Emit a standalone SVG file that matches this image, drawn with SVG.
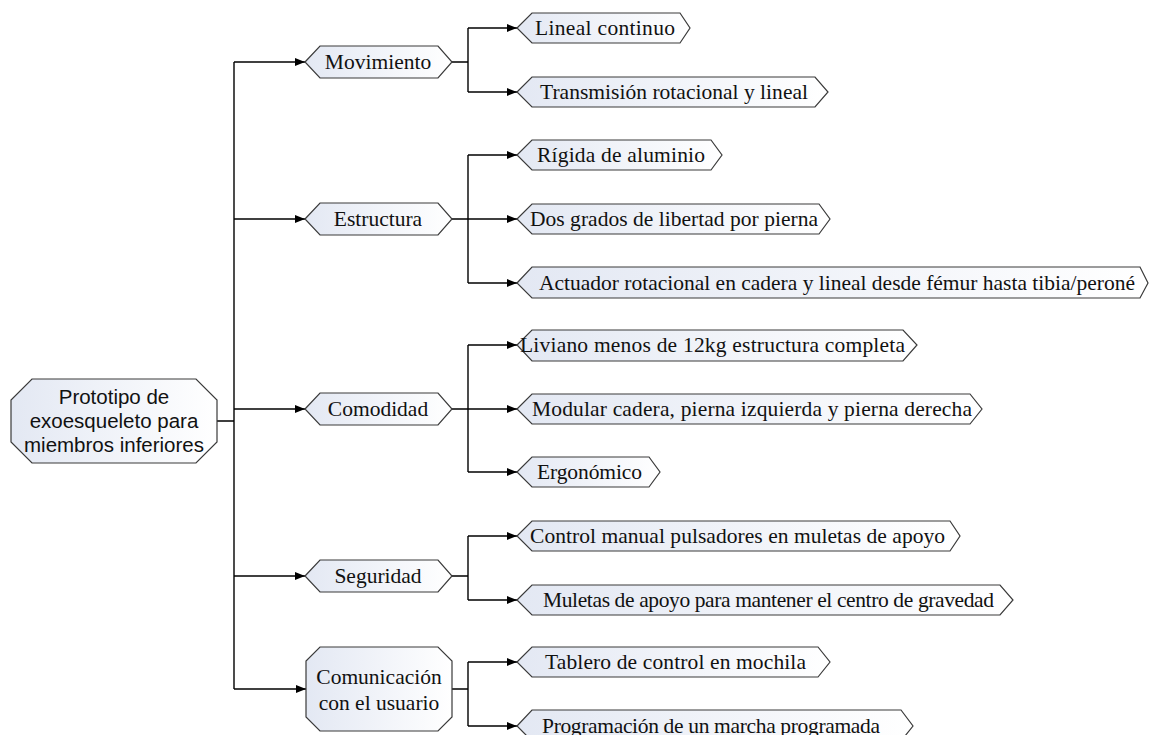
<svg xmlns="http://www.w3.org/2000/svg" width="1149" height="735" viewBox="0 0 1149 735">
  <defs>
    <linearGradient id="fillGrad" x1="0" y1="0" x2="1" y2="0">
      <stop offset="0" stop-color="#e3e8f3"/>
      <stop offset="1" stop-color="#ffffff"/>
    </linearGradient>
    <marker id="arrow" viewBox="0 0 10 8" refX="10" refY="4" markerWidth="10" markerHeight="8" markerUnits="userSpaceOnUse" orient="auto">
      <path d="M0,0 L10,4 L0,8 Z" fill="#000"/>
    </marker>
  </defs>
  <style>
    .shape { fill: url(#fillGrad); stroke: #3a3a3a; stroke-width: 1.2; }
    .wire { fill: none; stroke: #000; stroke-width: 1.4; }
    .arr { marker-end: url(#arrow); }
    .serif { font-family: "Liberation Serif", "Times New Roman", serif; font-size: 21.5px; fill: #111; }
    .sans { font-family: "Liberation Sans", Arial, sans-serif; font-size: 20.5px; fill: #111; }
    .mid { text-anchor: middle; }
  </style>

  <rect width="1149" height="735" fill="#ffffff"/>

  <!-- connectors -->
  <g id="connectors">
    <path class="wire" d="M217,421 H234 M234,62 V689"/>
    <path class="wire arr" d="M234,62 H305"/>
    <path class="wire arr" d="M234,219 H305"/>
    <path class="wire arr" d="M234,409 H305"/>
    <path class="wire arr" d="M234,576 H305"/>
    <path class="wire arr" d="M234,689 H306"/>

    <path class="wire" d="M452,62 H468 M468,28 V92"/>
    <path class="wire arr" d="M468,28 H517"/>
    <path class="wire arr" d="M468,92 H517"/>

    <path class="wire" d="M452,219 H468 M468,155 V283"/>
    <path class="wire arr" d="M468,155 H517"/>
    <path class="wire arr" d="M468,219 H517"/>
    <path class="wire arr" d="M468,283 H517"/>

    <path class="wire" d="M452,409 H468 M468,345 V472"/>
    <path class="wire arr" d="M468,345 H517"/>
    <path class="wire arr" d="M468,409 H517"/>
    <path class="wire arr" d="M468,472 H517"/>

    <path class="wire" d="M452,576 H468 M468,536 V600"/>
    <path class="wire arr" d="M468,536 H517"/>
    <path class="wire arr" d="M468,600 H517"/>

    <path class="wire" d="M452,689 H468 M468,662 V726"/>
    <path class="wire arr" d="M468,662 H517"/>
    <path class="wire arr" d="M468,726 H517"/>
  </g>

  <!-- root -->
  <g id="root">
    <polygon class="shape" points="32,379 196,379 217,400 217,442 196,463 32,463 11,442 11,400"/>
    <text class="sans mid" x="114" y="404">Prototipo de</text>
    <text class="sans mid" x="114" y="428">exoesqueleto para</text>
    <text class="sans mid" x="114" y="452">miembros inferiores</text>
  </g>

  <!-- branch nodes -->
  <g id="movimiento">
    <polygon class="shape" points="305,62 320,46 438,46 452,62 438,78 320,78"/>
    <text class="serif mid" x="378" y="69">Movimiento</text>
  </g>
  <g id="estructura">
    <polygon class="shape" points="305,219 320,203 438,203 452,219 438,235 320,235"/>
    <text class="serif mid" x="378" y="226">Estructura</text>
  </g>
  <g id="comodidad">
    <polygon class="shape" points="305,409 320,393 438,393 452,409 438,425 320,425"/>
    <text class="serif mid" x="378" y="416">Comodidad</text>
  </g>
  <g id="seguridad">
    <polygon class="shape" points="305,576 320,560 438,560 452,576 438,592 320,592"/>
    <text class="serif mid" x="378" y="583">Seguridad</text>
  </g>
  <g id="comunicacion">
    <polygon class="shape" points="320,647 438,647 452,661 452,717 438,731 320,731 306,717 306,661"/>
    <text class="serif mid" x="379" y="684">Comunicación</text>
    <text class="serif mid" x="379" y="710">con el usuario</text>
  </g>

  <!-- leaf nodes -->
  <g id="leaf-lineal">
    <polygon class="shape" points="517,28 532,13 680,13 690,28 680,43 532,43"/>
    <text class="serif" x="535" y="35" textLength="140">Lineal continuo</text>
  </g>
  <g id="leaf-transmision">
    <polygon class="shape" points="517,92 532,77 815,77 828,92 815,107 532,107"/>
    <text class="serif" x="540" y="99" textLength="268">Transmisión rotacional y lineal</text>
  </g>
  <g id="leaf-rigida">
    <polygon class="shape" points="517,155 532,140 711,140 722,155 711,170 532,170"/>
    <text class="serif" x="537" y="162" textLength="168">Rígida de aluminio</text>
  </g>
  <g id="leaf-grados">
    <polygon class="shape" points="517,219 532,204 819,204 830,219 819,234 532,234"/>
    <text class="serif" x="530" y="226" textLength="288">Dos grados de libertad por pierna</text>
  </g>
  <g id="leaf-actuador">
    <polygon class="shape" points="517,283 532,267 1140,267 1148,283 1140,298 532,298"/>
    <text class="serif" x="539" y="290" textLength="596">Actuador rotacional en cadera y lineal desde fémur hasta tibia/peroné</text>
  </g>
  <g id="leaf-liviano">
    <polygon class="shape" points="517,345 532,330 903,330 917,345 903,361 532,361"/>
    <text class="serif" x="520" y="352" textLength="385">Liviano menos de 12kg estructura completa</text>
  </g>
  <g id="leaf-modular">
    <polygon class="shape" points="517,409 532,394 970,394 982,409 970,424 532,424"/>
    <text class="serif" x="532" y="416" textLength="440">Modular cadera, pierna izquierda y pierna derecha</text>
  </g>
  <g id="leaf-ergonomico">
    <polygon class="shape" points="517,472 532,457 649,457 660,472 649,487 532,487"/>
    <text class="serif" x="537" y="479" textLength="105">Ergonómico</text>
  </g>
  <g id="leaf-control">
    <polygon class="shape" points="517,536 532,521 950,521 960,536 950,551 532,551"/>
    <text class="serif" x="530" y="543" textLength="415">Control manual pulsadores en muletas de apoyo</text>
  </g>
  <g id="leaf-muletas">
    <polygon class="shape" points="517,600 532,585 1000,585 1013,600 1000,615 532,615"/>
    <text class="serif" x="543" y="607" textLength="451">Muletas de apoyo para mantener el centro de gravedad</text>
  </g>
  <g id="leaf-tablero">
    <polygon class="shape" points="517,662 532,647 818,647 830,662 818,677 532,677"/>
    <text class="serif" x="545" y="669" textLength="261">Tablero de control en mochila</text>
  </g>
  <g id="leaf-programacion">
    <polygon class="shape" points="517,726 532,710 901,710 913,726 901,741 532,741"/>
    <text class="serif" x="542" y="733" textLength="338">Programación de un marcha programada</text>
  </g>
</svg>
